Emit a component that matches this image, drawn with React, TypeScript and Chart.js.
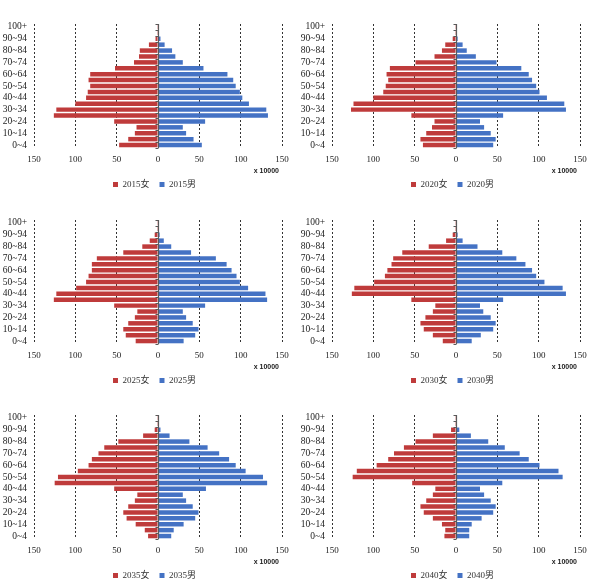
import React, { useEffect, useRef } from 'react';
import { Chart, registerables } from 'chart.js';

Chart.register(...registerables);

const AGE_GROUPS = ['0~4', '5~9', '10~14', '15~19', '20~24', '25~29', '30~34', '35~39', '40~44', '45~49', '50~54', '55~59', '60~64', '65~69', '70~74', '75~79', '80~84', '85~89', '90~94', '95~99', '100+'];

const YEARS = ['2015', '2020', '2025', '2030', '2035', '2040'];
const FEMALE_SUFFIX = '女';
const MALE_SUFFIX = '男';
const UNIT_LABEL = 'x 10000';

const FEMALE_2015 = [47, 36, 28, 26, 53, 126, 123, 100, 87, 85, 82, 84, 82, 52, 29, 23, 22, 11, 3, 1, 0.3];
const MALE_2015 = [53, 43, 34, 30, 57, 133, 131, 110, 102, 99, 94, 91, 84, 55, 30, 21, 17, 8, 3, 0.6, 0.3];

const FEMALE_2020 = [40, 43, 36, 29, 26, 54, 127, 124, 100, 88, 85, 82, 84, 80, 49, 26, 17, 13, 4, 1, 0.3];
const MALE_2020 = [45, 48, 42, 34, 29, 57, 133, 131, 110, 101, 97, 92, 88, 79, 49, 24, 13, 8, 2, 0.6, 0.3];

const FEMALE_2025 = [27, 39, 42, 36, 28, 25, 53, 126, 123, 99, 87, 84, 80, 80, 74, 42, 19, 10, 4, 1, 0.3];
const MALE_2025 = [31, 45, 49, 42, 34, 30, 57, 132, 130, 109, 99, 95, 89, 83, 70, 40, 16, 7, 2, 0.6, 0.3];

const FEMALE_2030 = [16, 28, 39, 43, 37, 28, 25, 54, 126, 123, 99, 86, 83, 78, 76, 65, 33, 12, 4, 1, 0.3];
const MALE_2030 = [19, 30, 45, 48, 42, 33, 29, 57, 133, 129, 107, 97, 92, 84, 73, 56, 26, 8, 2, 0.6, 0.3];

const FEMALE_2035 = [12, 16, 27, 38, 42, 36, 28, 25, 53, 125, 121, 97, 84, 80, 72, 65, 48, 18, 4, 1, 0.3];
const MALE_2035 = [16, 19, 31, 45, 49, 42, 34, 30, 58, 132, 127, 106, 94, 86, 74, 60, 38, 14, 3, 0.6, 0.3];

const FEMALE_2040 = [14, 13, 17, 28, 39, 43, 36, 28, 25, 53, 125, 120, 96, 82, 75, 63, 49, 28, 6, 1, 0.3];
const MALE_2040 = [16, 16, 19, 31, 45, 48, 42, 34, 29, 56, 129, 124, 101, 88, 77, 59, 39, 18, 4, 0.6, 0.3];

const FEMALE_SERIES = [FEMALE_2015, FEMALE_2020, FEMALE_2025, FEMALE_2030, FEMALE_2035, FEMALE_2040];
const MALE_SERIES = [MALE_2015, MALE_2020, MALE_2025, MALE_2030, MALE_2035, MALE_2040];

const RED = '#BF3B3B';
const BLUE = '#4472C4';
const SERIF = "'Liberation Serif', 'Times New Roman', 'Noto Sans CJK SC', serif";

const CANVAS_W = 298;
const CANVAS_H = 196;
const COL_X = [0, 298];
const ROW_Y = [0, 196, 391];
const LEGEND_H = 26;
const LEGEND_LEFT = 27;

const legendFix = {
  id: 'legendFix',
  beforeLayout(chart: any) {
    const lg = chart.legend;
    if (lg && !lg.__fixed) {
      const orig = lg.fit.bind(lg);
      lg.fit = function () {
        orig();
        this.height = LEGEND_H;
      };
      lg.__fixed = true;
    }
  },
  afterLayout(chart: any) {
    const lg = chart.legend;
    if (lg) lg.left = LEGEND_LEFT;
  },
};

const zeroAxis = {
  id: 'zeroAxis',
  afterDatasetsDraw(chart: any) {
    const { ctx, chartArea } = chart;
    const x = Math.round(chart.scales.x.getPixelForValue(0)) + 0.5;
    ctx.save();
    ctx.strokeStyle = '#5a5a5a';
    ctx.lineWidth = 1.2;
    ctx.beginPath();
    ctx.moveTo(x, chartArea.top);
    ctx.lineTo(x, chartArea.bottom);
    ctx.stroke();
    const n = AGE_GROUPS.length;
    const step = (chartArea.bottom - chartArea.top) / n;
    ctx.lineWidth = 1;
    ctx.beginPath();
    for (let i = 0; i <= n; i++) {
      const y = Math.round(chartArea.top + i * step) + 0.5;
      ctx.moveTo(x - 3, y);
      ctx.lineTo(x, y);
    }
    ctx.stroke();
    ctx.restore();
  },
};

const unitLabel = {
  id: 'unitLabel',
  afterDraw(chart: any) {
    const { ctx, chartArea } = chart;
    ctx.save();
    ctx.font = "bold 7px 'Liberation Sans', Arial, sans-serif";
    ctx.fillStyle = '#222';
    ctx.textAlign = 'right';
    ctx.textBaseline = 'middle';
    ctx.fillText(UNIT_LABEL, chartArea.right - 3, chartArea.bottom + 23);
    ctx.restore();
  },
};

function Pyramid({ year, female, male }: { year: string; female: number[]; male: number[] }) {
  const ref = useRef<HTMLCanvasElement>(null);
  useEffect(() => {
    if (!ref.current) return;
    const chart = new Chart(ref.current, {
      type: 'bar',
      data: {
        labels: AGE_GROUPS,
        datasets: [
          {
            label: year + FEMALE_SUFFIX,
            data: female.map((v) => -v),
            backgroundColor: RED,
            borderWidth: 0,
            barPercentage: 0.76,
            categoryPercentage: 1,
          },
          {
            label: year + MALE_SUFFIX,
            data: male,
            backgroundColor: BLUE,
            borderWidth: 0,
            barPercentage: 0.76,
            categoryPercentage: 1,
          },
        ],
      },
      options: {
        indexAxis: 'y',
        animation: false,
        responsive: false,
        maintainAspectRatio: false,
        layout: { padding: { top: 24, left: 0, right: 16, bottom: 0 } },
        scales: {
          x: {
            type: 'linear',
            min: -150,
            max: 150,
            stacked: true,
            ticks: {
              stepSize: 50,
              callback: (v: any) => String(Math.abs(Number(v))),
              font: { family: SERIF, size: 9 },
              color: '#222',
              padding: 6,
              maxRotation: 0,
            },
            grid: {
              color: (c: any) => (c.tick && c.tick.value === 0 ? 'rgba(0,0,0,0)' : '#333'),
              lineWidth: 1,
              drawTicks: false,
            },
            border: { display: false, dash: [2, 2] },
            afterFit: (s: any) => {
              s.height = 22;
            },
          },
          y: {
            type: 'category',
            reverse: true,
            stacked: true,
            grid: { display: false, drawTicks: false },
            border: { display: false },
            ticks: {
              autoSkip: false,
              callback: (v: any) => (Number(v) % 2 === 0 ? AGE_GROUPS[Number(v)] : ''),
              font: { family: SERIF, size: 9.5 },
              color: '#222',
              padding: 7,
            },
            afterFit: (s: any) => {
              s.width = 34;
            },
          },
        },
        plugins: {
          legend: {
            display: true,
            position: 'bottom',
            labels: {
              boxWidth: 5,
              boxHeight: 5,
              padding: 10,
              color: '#333',
              font: { family: SERIF, size: 9 },
            },
          },
          tooltip: { enabled: false },
        },
      },
      plugins: [legendFix, zeroAxis, unitLabel],
    } as any);
    return () => chart.destroy();
  }, [year, female, male]);
  return <canvas ref={ref} width={CANVAS_W} height={CANVAS_H} style={{ display: 'block', width: CANVAS_W, height: CANVAS_H }} />;
}

export default function App() {
  return (
    <div style={{ position: 'absolute', left: 0, top: 0, width: 600, height: 588, background: '#fff', overflow: 'hidden' }}>
      {YEARS.map((year, i) => (
        <div
          key={year}
          style={{ position: 'absolute', left: COL_X[i % 2], top: ROW_Y[Math.floor(i / 2)], width: CANVAS_W, height: CANVAS_H }}
        >
          <Pyramid year={year} female={FEMALE_SERIES[i]} male={MALE_SERIES[i]} />
        </div>
      ))}
    </div>
  );
}
